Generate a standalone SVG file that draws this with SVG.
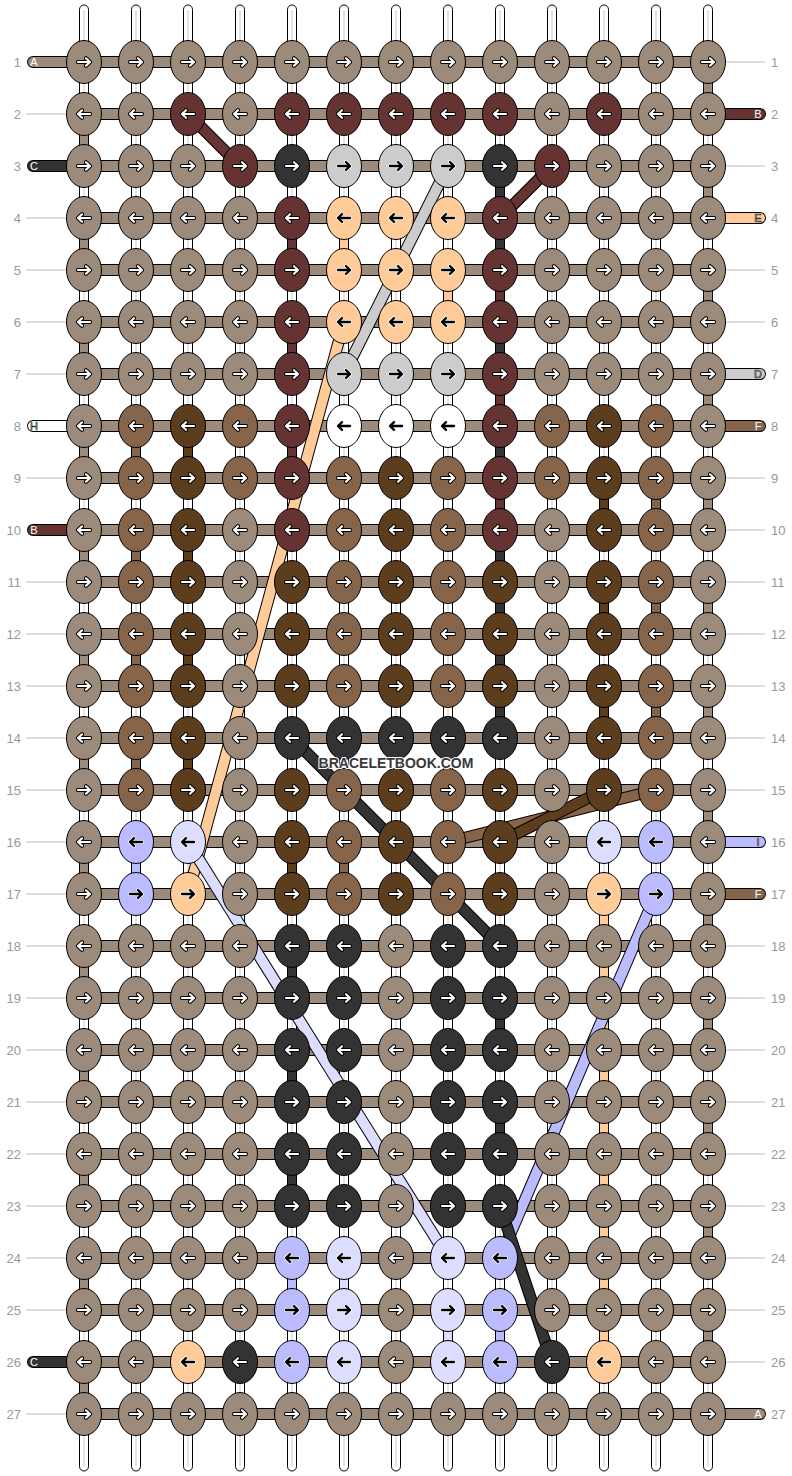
<svg xmlns="http://www.w3.org/2000/svg" xmlns:xlink="http://www.w3.org/1999/xlink" width="792" height="1476" viewBox="0 0 792 1476">
<style>
.e{stroke:#000;stroke-width:1}
.T{fill:#9c8a7a}.R{fill:#663333}.K{fill:#333333}.G{fill:#cccccc}.P{fill:#ffcc99}.W{fill:#ffffff}.M{fill:#86654a}.N{fill:#5c3d1d}.L{fill:#bbbbff}.Q{fill:#ddddff}
.cT{stroke:#9c8a7a}.cR{stroke:#663333}.cK{stroke:#333333}.cG{stroke:#cccccc}.cP{stroke:#ffcc99}.cW{stroke:#ffffff}.cM{stroke:#86654a}.cN{stroke:#5c3d1d}.cL{stroke:#bbbbff}.cQ{stroke:#ddddff}
.o{stroke:#000;stroke-width:12;fill:none}
.i{stroke-width:10;fill:none}
.so{stroke:#000;stroke-width:12;fill:none;stroke-linecap:round}
.si{stroke-width:10;fill:none;stroke-linecap:round}
.g{stroke:#000;stroke-width:1}
.wp{fill:#fff;stroke:#000;stroke-width:1}
.wc{stroke:#c8c8c8;stroke-width:1}
.gl{stroke:#bbbbbb;stroke-width:1;fill:none}
.num{font-family:"Liberation Sans",Arial,sans-serif;font-size:13px;fill:#999999}
.lt{font-family:"Liberation Sans",Arial,sans-serif;font-size:11px;fill:#ffffff;text-anchor:middle}
.lk{font-family:"Liberation Sans",Arial,sans-serif;font-size:11px;fill:#ffffff;stroke:#333;stroke-width:0.7;text-anchor:middle}
.ap{fill:none;stroke-linecap:round;stroke-linejoin:round}
.wm{font-family:"Liberation Sans",Arial,sans-serif;font-size:14px;font-weight:bold;fill:#383838;stroke:#ffffff;stroke-width:2;paint-order:stroke;text-anchor:middle}
</style>
<defs>
<path id="ad" d="M-6,0H5.6M2,-3.8L6,0L2,3.8"/>
<g id="aw"><use href="#ad" class="ap" stroke="#000" stroke-width="4.2"/><use href="#ad" class="ap" stroke="#fff" stroke-width="2.2"/></g>
<g id="ab"><use href="#ad" class="ap" stroke="#fff" stroke-width="3.8"/><use href="#ad" class="ap" stroke="#000" stroke-width="2.4"/></g>
<g id="sTR"><ellipse class="e T" rx="17.5" ry="21.5"/><use href="#aw"/></g>
<g id="sTL"><ellipse class="e T" rx="17.5" ry="21.5"/><use href="#aw" transform="scale(-1 1)"/></g>
<g id="sRR"><ellipse class="e R" rx="17.5" ry="21.5"/><use href="#aw"/></g>
<g id="sRL"><ellipse class="e R" rx="17.5" ry="21.5"/><use href="#aw" transform="scale(-1 1)"/></g>
<g id="sKR"><ellipse class="e K" rx="17.5" ry="21.5"/><use href="#aw"/></g>
<g id="sKL"><ellipse class="e K" rx="17.5" ry="21.5"/><use href="#aw" transform="scale(-1 1)"/></g>
<g id="sMR"><ellipse class="e M" rx="17.5" ry="21.5"/><use href="#aw"/></g>
<g id="sML"><ellipse class="e M" rx="17.5" ry="21.5"/><use href="#aw" transform="scale(-1 1)"/></g>
<g id="sNR"><ellipse class="e N" rx="17.5" ry="21.5"/><use href="#aw"/></g>
<g id="sNL"><ellipse class="e N" rx="17.5" ry="21.5"/><use href="#aw" transform="scale(-1 1)"/></g>
<g id="sGR"><ellipse class="e G" rx="17.5" ry="21.5"/><use href="#ab"/></g>
<g id="sPR"><ellipse class="e P" rx="17.5" ry="21.5"/><use href="#ab"/></g>
<g id="sPL"><ellipse class="e P" rx="17.5" ry="21.5"/><use href="#ab" transform="scale(-1 1)"/></g>
<g id="sWL"><ellipse class="e W" rx="17.5" ry="21.5"/><use href="#ab" transform="scale(-1 1)"/></g>
<g id="sLR"><ellipse class="e L" rx="17.5" ry="21.5"/><use href="#ab"/></g>
<g id="sLL"><ellipse class="e L" rx="17.5" ry="21.5"/><use href="#ab" transform="scale(-1 1)"/></g>
<g id="sQR"><ellipse class="e Q" rx="17.5" ry="21.5"/><use href="#ab"/></g>
<g id="sQL"><ellipse class="e Q" rx="17.5" ry="21.5"/><use href="#ab" transform="scale(-1 1)"/></g>
</defs>
<rect width="792" height="1476" fill="#ffffff"/>
<g id="warps">
<rect class="wp" x="79.5" y="5" width="9" height="1466" rx="4.5"/><rect class="wp" x="131.5" y="5" width="9" height="1466" rx="4.5"/><rect class="wp" x="183.5" y="5" width="9" height="1466" rx="4.5"/><rect class="wp" x="235.5" y="5" width="9" height="1466" rx="4.5"/><rect class="wp" x="287.5" y="5" width="9" height="1466" rx="4.5"/><rect class="wp" x="339.5" y="5" width="9" height="1466" rx="4.5"/><rect class="wp" x="391.5" y="5" width="9" height="1466" rx="4.5"/><rect class="wp" x="443.5" y="5" width="9" height="1466" rx="4.5"/><rect class="wp" x="495.5" y="5" width="9" height="1466" rx="4.5"/><rect class="wp" x="547.5" y="5" width="9" height="1466" rx="4.5"/><rect class="wp" x="599.5" y="5" width="9" height="1466" rx="4.5"/><rect class="wp" x="651.5" y="5" width="9" height="1466" rx="4.5"/><rect class="wp" x="703.5" y="5" width="9" height="1466" rx="4.5"/>
<path class="wc" d="M84,10V1466M136,10V1466M188,10V1466M240,10V1466M292,10V1466M344,10V1466M396,10V1466M448,10V1466M500,10V1466M552,10V1466M604,10V1466M656,10V1466M708,10V1466"/>
</g>
<g id="guides">
<path class="gl" d="M26,114H70M26,218H70M26,270H70M26,322H70M26,374H70M26,478H70M26,582H70M26,634H70M26,686H70M26,738H70M26,790H70M26,842H70M26,894H70M26,946H70M26,998H70M26,1050H70M26,1102H70M26,1154H70M26,1206H70M26,1258H70M26,1310H70M26,1414H70"/>
<path class="gl" d="M722,62H765M722,166H765M722,270H765M722,322H765M722,478H765M722,530H765M722,582H765M722,634H765M722,686H765M722,738H765M722,790H765M722,946H765M722,998H765M722,1050H765M722,1102H765M722,1154H765M722,1206H765M722,1258H765M722,1310H765M722,1362H765"/>
<g class="num" text-anchor="end">
<text x="21" y="66.5">1</text><text x="21" y="118.5">2</text><text x="21" y="170.5">3</text><text x="21" y="222.5">4</text><text x="21" y="274.5">5</text><text x="21" y="326.5">6</text><text x="21" y="378.5">7</text><text x="21" y="430.5">8</text><text x="21" y="482.5">9</text><text x="21" y="534.5">10</text><text x="21" y="586.5">11</text><text x="21" y="638.5">12</text><text x="21" y="690.5">13</text><text x="21" y="742.5">14</text><text x="21" y="794.5">15</text><text x="21" y="846.5">16</text><text x="21" y="898.5">17</text><text x="21" y="950.5">18</text><text x="21" y="1002.5">19</text><text x="21" y="1054.5">20</text><text x="21" y="1106.5">21</text><text x="21" y="1158.5">22</text><text x="21" y="1210.5">23</text><text x="21" y="1262.5">24</text><text x="21" y="1314.5">25</text><text x="21" y="1366.5">26</text><text x="21" y="1418.5">27</text>
</g>
<g class="num">
<text x="771" y="66.5">1</text><text x="771" y="118.5">2</text><text x="771" y="170.5">3</text><text x="771" y="222.5">4</text><text x="771" y="274.5">5</text><text x="771" y="326.5">6</text><text x="771" y="378.5">7</text><text x="771" y="430.5">8</text><text x="771" y="482.5">9</text><text x="771" y="534.5">10</text><text x="771" y="586.5">11</text><text x="771" y="638.5">12</text><text x="771" y="690.5">13</text><text x="771" y="742.5">14</text><text x="771" y="794.5">15</text><text x="771" y="846.5">16</text><text x="771" y="898.5">17</text><text x="771" y="950.5">18</text><text x="771" y="1002.5">19</text><text x="771" y="1054.5">20</text><text x="771" y="1106.5">21</text><text x="771" y="1158.5">22</text><text x="771" y="1210.5">23</text><text x="771" y="1262.5">24</text><text x="771" y="1314.5">25</text><text x="771" y="1366.5">26</text><text x="771" y="1418.5">27</text>
</g>
</g>
<g id="strings">
<path class="so" d="M33,62H84M33,166H84M33,426H84M33,530H84M33,1362H84M708,114H760M708,218H760M708,374H760M708,426H760M708,842H760M708,894H760M708,1414H760"/>
<path class="si cT" d="M33,62H84M708,1414H760"/>
<path class="si cK" d="M33,166H84M33,1362H84"/>
<path class="si cW" d="M33,426H84"/>
<path class="si cR" d="M33,530H84M708,114H760"/>
<path class="si cP" d="M708,218H760"/>
<path class="si cG" d="M708,374H760"/>
<path class="si cM" d="M708,426H760M708,894H760"/>
<path class="si cL" d="M708,842H760"/>
<path class="o" d="M84,62H708M84,114H708M84,166H708M84,218H708M84,270H708M84,322H708M84,374H708M84,426H708M84,478H708M84,530H708M84,582H708M84,634H708M84,686H708M84,738H708M84,790H708M84,842H708M84,894H708M84,946H708M84,998H708M84,1050H708M84,1102H708M84,1154H708M84,1206H708M84,1258H708M84,1310H708M84,1362H708M84,1414H708"/>
<path class="i cT" d="M84,62H708M84,114H708M84,166H708M84,218H708M84,270H708M84,322H708M84,374H708M84,426H708M84,478H708M84,530H708M84,582H708M84,634H708M84,686H708M84,738H708M84,790H708M84,842H708M84,894H708M84,946H708M84,998H708M84,1050H708M84,1102H708M84,1154H708M84,1206H708M84,1258H708M84,1310H708M84,1362H708M84,1414H708"/>
<g class="lt"><text x="34" y="66">A</text><text x="34" y="170">C</text><text x="34" y="534">B</text><text x="34" y="1366">C</text><text x="758" y="118">B</text><text x="758" y="430">F</text><text x="758" y="898">F</text><text x="758" y="1418">A</text></g>
<g class="lk"><text x="34" y="430">H</text><text x="758" y="222">E</text><text x="758" y="378">D</text><text x="758" y="846">I</text></g>
</g>
<g id="connectors">
<g id="gaps" class="g">
<rect class="T" x="703.5" y="76" width="9" height="24"/><rect class="T" x="703.5" y="180" width="9" height="24"/><rect class="T" x="703.5" y="284" width="9" height="24"/><rect class="T" x="703.5" y="388" width="9" height="24"/><rect class="T" x="703.5" y="492" width="9" height="24"/><rect class="T" x="703.5" y="596" width="9" height="24"/><rect class="T" x="703.5" y="700" width="9" height="24"/><rect class="T" x="703.5" y="804" width="9" height="24"/><rect class="T" x="703.5" y="908" width="9" height="24"/><rect class="T" x="703.5" y="1012" width="9" height="24"/><rect class="T" x="703.5" y="1116" width="9" height="24"/><rect class="T" x="703.5" y="1220" width="9" height="24"/><rect class="T" x="703.5" y="1324" width="9" height="24"/>
<rect class="T" x="79.5" y="128" width="9" height="24"/><rect class="T" x="79.5" y="232" width="9" height="24"/><rect class="T" x="79.5" y="336" width="9" height="24"/><rect class="T" x="79.5" y="440" width="9" height="24"/><rect class="T" x="79.5" y="544" width="9" height="24"/><rect class="T" x="79.5" y="648" width="9" height="24"/><rect class="T" x="79.5" y="752" width="9" height="24"/><rect class="T" x="79.5" y="856" width="9" height="24"/><rect class="T" x="79.5" y="960" width="9" height="24"/><rect class="T" x="79.5" y="1064" width="9" height="24"/><rect class="T" x="79.5" y="1168" width="9" height="24"/><rect class="T" x="79.5" y="1272" width="9" height="24"/><rect class="T" x="79.5" y="1376" width="9" height="24"/>
<rect class="R" x="287.5" y="232" width="9" height="24"/><rect class="R" x="495.5" y="284" width="9" height="24"/><rect class="R" x="287.5" y="336" width="9" height="24"/><rect class="R" x="495.5" y="388" width="9" height="24"/><rect class="R" x="287.5" y="440" width="9" height="24"/><rect class="R" x="495.5" y="492" width="9" height="24"/>
<rect class="K" x="495.5" y="180" width="9" height="24"/><rect class="K" x="495.5" y="232" width="9" height="24"/><rect class="K" x="495.5" y="336" width="9" height="24"/><rect class="K" x="495.5" y="440" width="9" height="24"/><rect class="K" x="495.5" y="544" width="9" height="24"/><rect class="K" x="495.5" y="596" width="9" height="24"/><rect class="K" x="495.5" y="648" width="9" height="24"/><rect class="K" x="495.5" y="700" width="9" height="24"/>
<rect class="K" x="287.5" y="960" width="9" height="24"/><rect class="K" x="495.5" y="1012" width="9" height="24"/><rect class="K" x="287.5" y="1064" width="9" height="24"/><rect class="K" x="495.5" y="1116" width="9" height="24"/><rect class="K" x="287.5" y="1168" width="9" height="24"/>
<rect class="P" x="339.5" y="232" width="9" height="24"/><rect class="P" x="443.5" y="284" width="9" height="24"/>
<rect class="P" x="599.5" y="908" width="9" height="24"/><rect class="P" x="599.5" y="960" width="9" height="24"/><rect class="P" x="599.5" y="1012" width="9" height="24"/><rect class="P" x="599.5" y="1064" width="9" height="24"/><rect class="P" x="599.5" y="1116" width="9" height="24"/><rect class="P" x="599.5" y="1168" width="9" height="24"/><rect class="P" x="599.5" y="1220" width="9" height="24"/><rect class="P" x="599.5" y="1272" width="9" height="24"/><rect class="P" x="599.5" y="1324" width="9" height="24"/>
<rect class="M" x="131.5" y="440" width="9" height="24"/><rect class="M" x="651.5" y="492" width="9" height="24"/><rect class="M" x="131.5" y="544" width="9" height="24"/><rect class="M" x="651.5" y="596" width="9" height="24"/><rect class="M" x="131.5" y="648" width="9" height="24"/><rect class="M" x="651.5" y="700" width="9" height="24"/><rect class="M" x="131.5" y="752" width="9" height="24"/><rect class="M" x="339.5" y="856" width="9" height="24"/>
<rect class="N" x="183.5" y="440" width="9" height="24"/><rect class="N" x="599.5" y="492" width="9" height="24"/><rect class="N" x="183.5" y="544" width="9" height="24"/><rect class="N" x="599.5" y="596" width="9" height="24"/><rect class="N" x="183.5" y="648" width="9" height="24"/><rect class="N" x="599.5" y="700" width="9" height="24"/><rect class="N" x="183.5" y="752" width="9" height="24"/><rect class="N" x="287.5" y="856" width="9" height="24"/>
<rect class="L" x="131.5" y="856" width="9" height="24"/><rect class="L" x="287.5" y="1272" width="9" height="24"/><rect class="L" x="495.5" y="1324" width="9" height="24"/>
<rect class="Q" x="339.5" y="1272" width="9" height="24"/><rect class="Q" x="443.5" y="1324" width="9" height="24"/>
</g>
<g id="diagonals">
<path class="o" d="M188,114L240,166M552,166L500,218M448,166L344,374"/>
<path class="i cR" d="M188,114L240,166M552,166L500,218"/>
<path class="i cG" d="M448,166L344,374"/>
<path class="o" d="M344,322L188,894"/>
<path class="i cP" d="M344,322L188,894"/>
<path class="o" d="M188,842L448,1258"/>
<path class="i cQ" d="M188,842L448,1258"/>
<path class="o" d="M656,790L448,842"/>
<path class="i cM" d="M656,790L448,842"/>
<path class="o" d="M604,790L500,842"/>
<path class="i cN" d="M604,790L500,842"/>
<path class="o" d="M656,894L500,1258"/>
<path class="i cL" d="M656,894L500,1258"/>
<path class="o" d="M292,738L500,946M500,1206L552,1362"/>
<path class="i cK" d="M292,738L500,946M500,1206L552,1362"/>
</g>
</g>
<g id="knots">
<g id="row1"><g id="k1-1"><use href="#sTR" x="84" y="62"/></g><g id="k1-2"><use href="#sTR" x="136" y="62"/></g><g id="k1-3"><use href="#sTR" x="188" y="62"/></g><g id="k1-4"><use href="#sTR" x="240" y="62"/></g><g id="k1-5"><use href="#sTR" x="292" y="62"/></g><g id="k1-6"><use href="#sTR" x="344" y="62"/></g><g id="k1-7"><use href="#sTR" x="396" y="62"/></g><g id="k1-8"><use href="#sTR" x="448" y="62"/></g><g id="k1-9"><use href="#sTR" x="500" y="62"/></g><g id="k1-10"><use href="#sTR" x="552" y="62"/></g><g id="k1-11"><use href="#sTR" x="604" y="62"/></g><g id="k1-12"><use href="#sTR" x="656" y="62"/></g><g id="k1-13"><use href="#sTR" x="708" y="62"/></g></g>
<g id="row2"><g id="k2-1"><use href="#sTL" x="84" y="114"/></g><g id="k2-2"><use href="#sTL" x="136" y="114"/></g><g id="k2-3"><use href="#sRL" x="188" y="114"/></g><g id="k2-4"><use href="#sTL" x="240" y="114"/></g><g id="k2-5"><use href="#sRL" x="292" y="114"/></g><g id="k2-6"><use href="#sRL" x="344" y="114"/></g><g id="k2-7"><use href="#sRL" x="396" y="114"/></g><g id="k2-8"><use href="#sRL" x="448" y="114"/></g><g id="k2-9"><use href="#sRL" x="500" y="114"/></g><g id="k2-10"><use href="#sTL" x="552" y="114"/></g><g id="k2-11"><use href="#sRL" x="604" y="114"/></g><g id="k2-12"><use href="#sTL" x="656" y="114"/></g><g id="k2-13"><use href="#sTL" x="708" y="114"/></g></g>
<g id="row3"><g id="k3-1"><use href="#sTR" x="84" y="166"/></g><g id="k3-2"><use href="#sTR" x="136" y="166"/></g><g id="k3-3"><use href="#sTR" x="188" y="166"/></g><g id="k3-4"><use href="#sRR" x="240" y="166"/></g><g id="k3-5"><use href="#sKR" x="292" y="166"/></g><g id="k3-6"><use href="#sGR" x="344" y="166"/></g><g id="k3-7"><use href="#sGR" x="396" y="166"/></g><g id="k3-8"><use href="#sGR" x="448" y="166"/></g><g id="k3-9"><use href="#sKR" x="500" y="166"/></g><g id="k3-10"><use href="#sRR" x="552" y="166"/></g><g id="k3-11"><use href="#sTR" x="604" y="166"/></g><g id="k3-12"><use href="#sTR" x="656" y="166"/></g><g id="k3-13"><use href="#sTR" x="708" y="166"/></g></g>
<g id="row4"><g id="k4-1"><use href="#sTL" x="84" y="218"/></g><g id="k4-2"><use href="#sTL" x="136" y="218"/></g><g id="k4-3"><use href="#sTL" x="188" y="218"/></g><g id="k4-4"><use href="#sTL" x="240" y="218"/></g><g id="k4-5"><use href="#sRL" x="292" y="218"/></g><g id="k4-6"><use href="#sPL" x="344" y="218"/></g><g id="k4-7"><use href="#sPL" x="396" y="218"/></g><g id="k4-8"><use href="#sPL" x="448" y="218"/></g><g id="k4-9"><use href="#sRL" x="500" y="218"/></g><g id="k4-10"><use href="#sTL" x="552" y="218"/></g><g id="k4-11"><use href="#sTL" x="604" y="218"/></g><g id="k4-12"><use href="#sTL" x="656" y="218"/></g><g id="k4-13"><use href="#sTL" x="708" y="218"/></g></g>
<g id="row5"><g id="k5-1"><use href="#sTR" x="84" y="270"/></g><g id="k5-2"><use href="#sTR" x="136" y="270"/></g><g id="k5-3"><use href="#sTR" x="188" y="270"/></g><g id="k5-4"><use href="#sTR" x="240" y="270"/></g><g id="k5-5"><use href="#sRR" x="292" y="270"/></g><g id="k5-6"><use href="#sPR" x="344" y="270"/></g><g id="k5-7"><use href="#sPR" x="396" y="270"/></g><g id="k5-8"><use href="#sPR" x="448" y="270"/></g><g id="k5-9"><use href="#sRR" x="500" y="270"/></g><g id="k5-10"><use href="#sTR" x="552" y="270"/></g><g id="k5-11"><use href="#sTR" x="604" y="270"/></g><g id="k5-12"><use href="#sTR" x="656" y="270"/></g><g id="k5-13"><use href="#sTR" x="708" y="270"/></g></g>
<g id="row6"><g id="k6-1"><use href="#sTL" x="84" y="322"/></g><g id="k6-2"><use href="#sTL" x="136" y="322"/></g><g id="k6-3"><use href="#sTL" x="188" y="322"/></g><g id="k6-4"><use href="#sTL" x="240" y="322"/></g><g id="k6-5"><use href="#sRL" x="292" y="322"/></g><g id="k6-6"><use href="#sPL" x="344" y="322"/></g><g id="k6-7"><use href="#sPL" x="396" y="322"/></g><g id="k6-8"><use href="#sPL" x="448" y="322"/></g><g id="k6-9"><use href="#sRL" x="500" y="322"/></g><g id="k6-10"><use href="#sTL" x="552" y="322"/></g><g id="k6-11"><use href="#sTL" x="604" y="322"/></g><g id="k6-12"><use href="#sTL" x="656" y="322"/></g><g id="k6-13"><use href="#sTL" x="708" y="322"/></g></g>
<g id="row7"><g id="k7-1"><use href="#sTR" x="84" y="374"/></g><g id="k7-2"><use href="#sTR" x="136" y="374"/></g><g id="k7-3"><use href="#sTR" x="188" y="374"/></g><g id="k7-4"><use href="#sTR" x="240" y="374"/></g><g id="k7-5"><use href="#sRR" x="292" y="374"/></g><g id="k7-6"><use href="#sGR" x="344" y="374"/></g><g id="k7-7"><use href="#sGR" x="396" y="374"/></g><g id="k7-8"><use href="#sGR" x="448" y="374"/></g><g id="k7-9"><use href="#sRR" x="500" y="374"/></g><g id="k7-10"><use href="#sTR" x="552" y="374"/></g><g id="k7-11"><use href="#sTR" x="604" y="374"/></g><g id="k7-12"><use href="#sTR" x="656" y="374"/></g><g id="k7-13"><use href="#sTR" x="708" y="374"/></g></g>
<g id="row8"><g id="k8-1"><use href="#sTL" x="84" y="426"/></g><g id="k8-2"><use href="#sML" x="136" y="426"/></g><g id="k8-3"><use href="#sNL" x="188" y="426"/></g><g id="k8-4"><use href="#sML" x="240" y="426"/></g><g id="k8-5"><use href="#sRL" x="292" y="426"/></g><g id="k8-6"><use href="#sWL" x="344" y="426"/></g><g id="k8-7"><use href="#sWL" x="396" y="426"/></g><g id="k8-8"><use href="#sWL" x="448" y="426"/></g><g id="k8-9"><use href="#sRL" x="500" y="426"/></g><g id="k8-10"><use href="#sML" x="552" y="426"/></g><g id="k8-11"><use href="#sNL" x="604" y="426"/></g><g id="k8-12"><use href="#sML" x="656" y="426"/></g><g id="k8-13"><use href="#sTL" x="708" y="426"/></g></g>
<g id="row9"><g id="k9-1"><use href="#sTR" x="84" y="478"/></g><g id="k9-2"><use href="#sMR" x="136" y="478"/></g><g id="k9-3"><use href="#sNR" x="188" y="478"/></g><g id="k9-4"><use href="#sMR" x="240" y="478"/></g><g id="k9-5"><use href="#sRR" x="292" y="478"/></g><g id="k9-6"><use href="#sMR" x="344" y="478"/></g><g id="k9-7"><use href="#sNR" x="396" y="478"/></g><g id="k9-8"><use href="#sMR" x="448" y="478"/></g><g id="k9-9"><use href="#sRR" x="500" y="478"/></g><g id="k9-10"><use href="#sMR" x="552" y="478"/></g><g id="k9-11"><use href="#sNR" x="604" y="478"/></g><g id="k9-12"><use href="#sMR" x="656" y="478"/></g><g id="k9-13"><use href="#sTR" x="708" y="478"/></g></g>
<g id="row10"><g id="k10-1"><use href="#sTL" x="84" y="530"/></g><g id="k10-2"><use href="#sML" x="136" y="530"/></g><g id="k10-3"><use href="#sNL" x="188" y="530"/></g><g id="k10-4"><use href="#sTL" x="240" y="530"/></g><g id="k10-5"><use href="#sRL" x="292" y="530"/></g><g id="k10-6"><use href="#sML" x="344" y="530"/></g><g id="k10-7"><use href="#sNL" x="396" y="530"/></g><g id="k10-8"><use href="#sML" x="448" y="530"/></g><g id="k10-9"><use href="#sRL" x="500" y="530"/></g><g id="k10-10"><use href="#sTL" x="552" y="530"/></g><g id="k10-11"><use href="#sNL" x="604" y="530"/></g><g id="k10-12"><use href="#sML" x="656" y="530"/></g><g id="k10-13"><use href="#sTL" x="708" y="530"/></g></g>
<g id="row11"><g id="k11-1"><use href="#sTR" x="84" y="582"/></g><g id="k11-2"><use href="#sMR" x="136" y="582"/></g><g id="k11-3"><use href="#sNR" x="188" y="582"/></g><g id="k11-4"><use href="#sTR" x="240" y="582"/></g><g id="k11-5"><use href="#sNR" x="292" y="582"/></g><g id="k11-6"><use href="#sMR" x="344" y="582"/></g><g id="k11-7"><use href="#sNR" x="396" y="582"/></g><g id="k11-8"><use href="#sMR" x="448" y="582"/></g><g id="k11-9"><use href="#sNR" x="500" y="582"/></g><g id="k11-10"><use href="#sTR" x="552" y="582"/></g><g id="k11-11"><use href="#sNR" x="604" y="582"/></g><g id="k11-12"><use href="#sMR" x="656" y="582"/></g><g id="k11-13"><use href="#sTR" x="708" y="582"/></g></g>
<g id="row12"><g id="k12-1"><use href="#sTL" x="84" y="634"/></g><g id="k12-2"><use href="#sML" x="136" y="634"/></g><g id="k12-3"><use href="#sNL" x="188" y="634"/></g><g id="k12-4"><use href="#sTL" x="240" y="634"/></g><g id="k12-5"><use href="#sNL" x="292" y="634"/></g><g id="k12-6"><use href="#sML" x="344" y="634"/></g><g id="k12-7"><use href="#sNL" x="396" y="634"/></g><g id="k12-8"><use href="#sML" x="448" y="634"/></g><g id="k12-9"><use href="#sNL" x="500" y="634"/></g><g id="k12-10"><use href="#sTL" x="552" y="634"/></g><g id="k12-11"><use href="#sNL" x="604" y="634"/></g><g id="k12-12"><use href="#sML" x="656" y="634"/></g><g id="k12-13"><use href="#sTL" x="708" y="634"/></g></g>
<g id="row13"><g id="k13-1"><use href="#sTR" x="84" y="686"/></g><g id="k13-2"><use href="#sMR" x="136" y="686"/></g><g id="k13-3"><use href="#sNR" x="188" y="686"/></g><g id="k13-4"><use href="#sTR" x="240" y="686"/></g><g id="k13-5"><use href="#sNR" x="292" y="686"/></g><g id="k13-6"><use href="#sMR" x="344" y="686"/></g><g id="k13-7"><use href="#sNR" x="396" y="686"/></g><g id="k13-8"><use href="#sMR" x="448" y="686"/></g><g id="k13-9"><use href="#sNR" x="500" y="686"/></g><g id="k13-10"><use href="#sTR" x="552" y="686"/></g><g id="k13-11"><use href="#sNR" x="604" y="686"/></g><g id="k13-12"><use href="#sMR" x="656" y="686"/></g><g id="k13-13"><use href="#sTR" x="708" y="686"/></g></g>
<g id="row14"><g id="k14-1"><use href="#sTL" x="84" y="738"/></g><g id="k14-2"><use href="#sML" x="136" y="738"/></g><g id="k14-3"><use href="#sNL" x="188" y="738"/></g><g id="k14-4"><use href="#sTL" x="240" y="738"/></g><g id="k14-5"><use href="#sKL" x="292" y="738"/></g><g id="k14-6"><use href="#sKL" x="344" y="738"/></g><g id="k14-7"><use href="#sKL" x="396" y="738"/></g><g id="k14-8"><use href="#sKL" x="448" y="738"/></g><g id="k14-9"><use href="#sKL" x="500" y="738"/></g><g id="k14-10"><use href="#sTL" x="552" y="738"/></g><g id="k14-11"><use href="#sNL" x="604" y="738"/></g><g id="k14-12"><use href="#sML" x="656" y="738"/></g><g id="k14-13"><use href="#sTL" x="708" y="738"/></g></g>
<g id="row15"><g id="k15-1"><use href="#sTR" x="84" y="790"/></g><g id="k15-2"><use href="#sMR" x="136" y="790"/></g><g id="k15-3"><use href="#sNR" x="188" y="790"/></g><g id="k15-4"><use href="#sTR" x="240" y="790"/></g><g id="k15-5"><use href="#sNR" x="292" y="790"/></g><g id="k15-6"><use href="#sMR" x="344" y="790"/></g><g id="k15-7"><use href="#sNR" x="396" y="790"/></g><g id="k15-8"><use href="#sMR" x="448" y="790"/></g><g id="k15-9"><use href="#sNR" x="500" y="790"/></g><g id="k15-10"><use href="#sTR" x="552" y="790"/></g><g id="k15-11"><use href="#sNR" x="604" y="790"/></g><g id="k15-12"><use href="#sMR" x="656" y="790"/></g><g id="k15-13"><use href="#sTR" x="708" y="790"/></g></g>
<g id="row16"><g id="k16-1"><use href="#sTL" x="84" y="842"/></g><g id="k16-2"><use href="#sLL" x="136" y="842"/></g><g id="k16-3"><use href="#sQL" x="188" y="842"/></g><g id="k16-4"><use href="#sTL" x="240" y="842"/></g><g id="k16-5"><use href="#sNL" x="292" y="842"/></g><g id="k16-6"><use href="#sML" x="344" y="842"/></g><g id="k16-7"><use href="#sNL" x="396" y="842"/></g><g id="k16-8"><use href="#sML" x="448" y="842"/></g><g id="k16-9"><use href="#sNL" x="500" y="842"/></g><g id="k16-10"><use href="#sTL" x="552" y="842"/></g><g id="k16-11"><use href="#sQL" x="604" y="842"/></g><g id="k16-12"><use href="#sLL" x="656" y="842"/></g><g id="k16-13"><use href="#sTL" x="708" y="842"/></g></g>
<g id="row17"><g id="k17-1"><use href="#sTR" x="84" y="894"/></g><g id="k17-2"><use href="#sLR" x="136" y="894"/></g><g id="k17-3"><use href="#sPR" x="188" y="894"/></g><g id="k17-4"><use href="#sTR" x="240" y="894"/></g><g id="k17-5"><use href="#sNR" x="292" y="894"/></g><g id="k17-6"><use href="#sMR" x="344" y="894"/></g><g id="k17-7"><use href="#sNR" x="396" y="894"/></g><g id="k17-8"><use href="#sMR" x="448" y="894"/></g><g id="k17-9"><use href="#sNR" x="500" y="894"/></g><g id="k17-10"><use href="#sTR" x="552" y="894"/></g><g id="k17-11"><use href="#sPR" x="604" y="894"/></g><g id="k17-12"><use href="#sLR" x="656" y="894"/></g><g id="k17-13"><use href="#sTR" x="708" y="894"/></g></g>
<g id="row18"><g id="k18-1"><use href="#sTL" x="84" y="946"/></g><g id="k18-2"><use href="#sTL" x="136" y="946"/></g><g id="k18-3"><use href="#sTL" x="188" y="946"/></g><g id="k18-4"><use href="#sTL" x="240" y="946"/></g><g id="k18-5"><use href="#sKL" x="292" y="946"/></g><g id="k18-6"><use href="#sKL" x="344" y="946"/></g><g id="k18-7"><use href="#sTL" x="396" y="946"/></g><g id="k18-8"><use href="#sKL" x="448" y="946"/></g><g id="k18-9"><use href="#sKL" x="500" y="946"/></g><g id="k18-10"><use href="#sTL" x="552" y="946"/></g><g id="k18-11"><use href="#sTL" x="604" y="946"/></g><g id="k18-12"><use href="#sTL" x="656" y="946"/></g><g id="k18-13"><use href="#sTL" x="708" y="946"/></g></g>
<g id="row19"><g id="k19-1"><use href="#sTR" x="84" y="998"/></g><g id="k19-2"><use href="#sTR" x="136" y="998"/></g><g id="k19-3"><use href="#sTR" x="188" y="998"/></g><g id="k19-4"><use href="#sTR" x="240" y="998"/></g><g id="k19-5"><use href="#sKR" x="292" y="998"/></g><g id="k19-6"><use href="#sKR" x="344" y="998"/></g><g id="k19-7"><use href="#sTR" x="396" y="998"/></g><g id="k19-8"><use href="#sKR" x="448" y="998"/></g><g id="k19-9"><use href="#sKR" x="500" y="998"/></g><g id="k19-10"><use href="#sTR" x="552" y="998"/></g><g id="k19-11"><use href="#sTR" x="604" y="998"/></g><g id="k19-12"><use href="#sTR" x="656" y="998"/></g><g id="k19-13"><use href="#sTR" x="708" y="998"/></g></g>
<g id="row20"><g id="k20-1"><use href="#sTL" x="84" y="1050"/></g><g id="k20-2"><use href="#sTL" x="136" y="1050"/></g><g id="k20-3"><use href="#sTL" x="188" y="1050"/></g><g id="k20-4"><use href="#sTL" x="240" y="1050"/></g><g id="k20-5"><use href="#sKL" x="292" y="1050"/></g><g id="k20-6"><use href="#sKL" x="344" y="1050"/></g><g id="k20-7"><use href="#sTL" x="396" y="1050"/></g><g id="k20-8"><use href="#sKL" x="448" y="1050"/></g><g id="k20-9"><use href="#sKL" x="500" y="1050"/></g><g id="k20-10"><use href="#sTL" x="552" y="1050"/></g><g id="k20-11"><use href="#sTL" x="604" y="1050"/></g><g id="k20-12"><use href="#sTL" x="656" y="1050"/></g><g id="k20-13"><use href="#sTL" x="708" y="1050"/></g></g>
<g id="row21"><g id="k21-1"><use href="#sTR" x="84" y="1102"/></g><g id="k21-2"><use href="#sTR" x="136" y="1102"/></g><g id="k21-3"><use href="#sTR" x="188" y="1102"/></g><g id="k21-4"><use href="#sTR" x="240" y="1102"/></g><g id="k21-5"><use href="#sKR" x="292" y="1102"/></g><g id="k21-6"><use href="#sKR" x="344" y="1102"/></g><g id="k21-7"><use href="#sTR" x="396" y="1102"/></g><g id="k21-8"><use href="#sKR" x="448" y="1102"/></g><g id="k21-9"><use href="#sKR" x="500" y="1102"/></g><g id="k21-10"><use href="#sTR" x="552" y="1102"/></g><g id="k21-11"><use href="#sTR" x="604" y="1102"/></g><g id="k21-12"><use href="#sTR" x="656" y="1102"/></g><g id="k21-13"><use href="#sTR" x="708" y="1102"/></g></g>
<g id="row22"><g id="k22-1"><use href="#sTL" x="84" y="1154"/></g><g id="k22-2"><use href="#sTL" x="136" y="1154"/></g><g id="k22-3"><use href="#sTL" x="188" y="1154"/></g><g id="k22-4"><use href="#sTL" x="240" y="1154"/></g><g id="k22-5"><use href="#sKL" x="292" y="1154"/></g><g id="k22-6"><use href="#sKL" x="344" y="1154"/></g><g id="k22-7"><use href="#sTL" x="396" y="1154"/></g><g id="k22-8"><use href="#sKL" x="448" y="1154"/></g><g id="k22-9"><use href="#sKL" x="500" y="1154"/></g><g id="k22-10"><use href="#sTL" x="552" y="1154"/></g><g id="k22-11"><use href="#sTL" x="604" y="1154"/></g><g id="k22-12"><use href="#sTL" x="656" y="1154"/></g><g id="k22-13"><use href="#sTL" x="708" y="1154"/></g></g>
<g id="row23"><g id="k23-1"><use href="#sTR" x="84" y="1206"/></g><g id="k23-2"><use href="#sTR" x="136" y="1206"/></g><g id="k23-3"><use href="#sTR" x="188" y="1206"/></g><g id="k23-4"><use href="#sTR" x="240" y="1206"/></g><g id="k23-5"><use href="#sKR" x="292" y="1206"/></g><g id="k23-6"><use href="#sKR" x="344" y="1206"/></g><g id="k23-7"><use href="#sTR" x="396" y="1206"/></g><g id="k23-8"><use href="#sKR" x="448" y="1206"/></g><g id="k23-9"><use href="#sKR" x="500" y="1206"/></g><g id="k23-10"><use href="#sTR" x="552" y="1206"/></g><g id="k23-11"><use href="#sTR" x="604" y="1206"/></g><g id="k23-12"><use href="#sTR" x="656" y="1206"/></g><g id="k23-13"><use href="#sTR" x="708" y="1206"/></g></g>
<g id="row24"><g id="k24-1"><use href="#sTL" x="84" y="1258"/></g><g id="k24-2"><use href="#sTL" x="136" y="1258"/></g><g id="k24-3"><use href="#sTL" x="188" y="1258"/></g><g id="k24-4"><use href="#sTL" x="240" y="1258"/></g><g id="k24-5"><use href="#sLL" x="292" y="1258"/></g><g id="k24-6"><use href="#sQL" x="344" y="1258"/></g><g id="k24-7"><use href="#sTL" x="396" y="1258"/></g><g id="k24-8"><use href="#sQL" x="448" y="1258"/></g><g id="k24-9"><use href="#sLL" x="500" y="1258"/></g><g id="k24-10"><use href="#sTL" x="552" y="1258"/></g><g id="k24-11"><use href="#sTL" x="604" y="1258"/></g><g id="k24-12"><use href="#sTL" x="656" y="1258"/></g><g id="k24-13"><use href="#sTL" x="708" y="1258"/></g></g>
<g id="row25"><g id="k25-1"><use href="#sTR" x="84" y="1310"/></g><g id="k25-2"><use href="#sTR" x="136" y="1310"/></g><g id="k25-3"><use href="#sTR" x="188" y="1310"/></g><g id="k25-4"><use href="#sTR" x="240" y="1310"/></g><g id="k25-5"><use href="#sLR" x="292" y="1310"/></g><g id="k25-6"><use href="#sQR" x="344" y="1310"/></g><g id="k25-7"><use href="#sTR" x="396" y="1310"/></g><g id="k25-8"><use href="#sQR" x="448" y="1310"/></g><g id="k25-9"><use href="#sLR" x="500" y="1310"/></g><g id="k25-10"><use href="#sTR" x="552" y="1310"/></g><g id="k25-11"><use href="#sTR" x="604" y="1310"/></g><g id="k25-12"><use href="#sTR" x="656" y="1310"/></g><g id="k25-13"><use href="#sTR" x="708" y="1310"/></g></g>
<g id="row26"><g id="k26-1"><use href="#sTL" x="84" y="1362"/></g><g id="k26-2"><use href="#sTL" x="136" y="1362"/></g><g id="k26-3"><use href="#sPL" x="188" y="1362"/></g><g id="k26-4"><use href="#sKL" x="240" y="1362"/></g><g id="k26-5"><use href="#sLL" x="292" y="1362"/></g><g id="k26-6"><use href="#sQL" x="344" y="1362"/></g><g id="k26-7"><use href="#sTL" x="396" y="1362"/></g><g id="k26-8"><use href="#sQL" x="448" y="1362"/></g><g id="k26-9"><use href="#sLL" x="500" y="1362"/></g><g id="k26-10"><use href="#sKL" x="552" y="1362"/></g><g id="k26-11"><use href="#sPL" x="604" y="1362"/></g><g id="k26-12"><use href="#sTL" x="656" y="1362"/></g><g id="k26-13"><use href="#sTL" x="708" y="1362"/></g></g>
<g id="row27"><g id="k27-1"><use href="#sTR" x="84" y="1414"/></g><g id="k27-2"><use href="#sTR" x="136" y="1414"/></g><g id="k27-3"><use href="#sTR" x="188" y="1414"/></g><g id="k27-4"><use href="#sTR" x="240" y="1414"/></g><g id="k27-5"><use href="#sTR" x="292" y="1414"/></g><g id="k27-6"><use href="#sTR" x="344" y="1414"/></g><g id="k27-7"><use href="#sTR" x="396" y="1414"/></g><g id="k27-8"><use href="#sTR" x="448" y="1414"/></g><g id="k27-9"><use href="#sTR" x="500" y="1414"/></g><g id="k27-10"><use href="#sTR" x="552" y="1414"/></g><g id="k27-11"><use href="#sTR" x="604" y="1414"/></g><g id="k27-12"><use href="#sTR" x="656" y="1414"/></g><g id="k27-13"><use href="#sTR" x="708" y="1414"/></g></g>
</g>
<text class="wm" x="396" y="768">BRACELETBOOK.COM</text>
</svg>
